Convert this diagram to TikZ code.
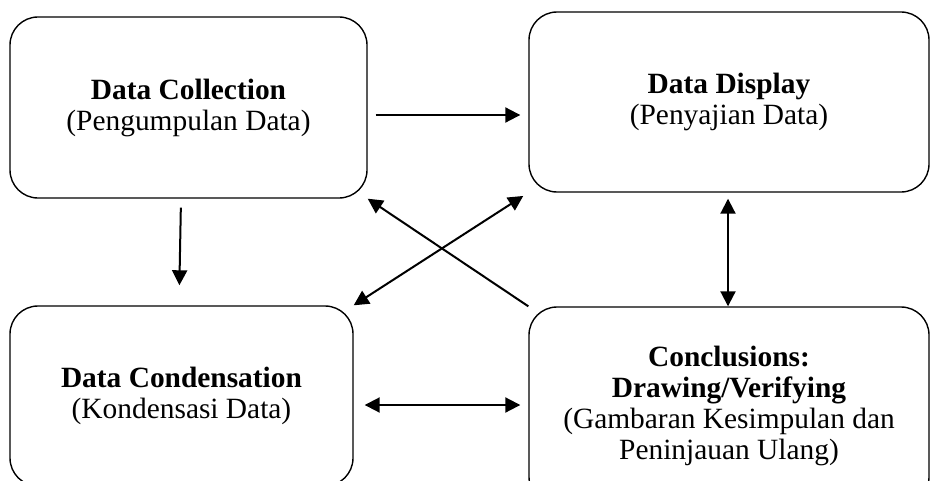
\documentclass[tikz,border=0pt]{standalone}
\usepackage{fontspec}
\setmainfont{Liberation Serif}
\usetikzlibrary{arrows.meta}
\tikzset{
  stagebox/.style={draw, line width=0.7pt, rounded corners=14pt,
    align=center, inner sep=0pt,
    font=\fontsize{14.7}{15.5}\selectfont},
  flow/.style={line width=1pt, -{Triangle[length=7.5pt,width=7.5pt]}},
  twoway/.style={line width=1pt,
    {Triangle[length=7.5pt,width=7.5pt]}-{Triangle[length=7.5pt,width=7.5pt]}},
}

\begin{document}
\begin{tikzpicture}[
  x=0.5pt,
  y=-0.5pt,
]
\useasboundingbox (0,0) rectangle (930,481);

\node [stagebox, minimum width=178.5pt, minimum height=90.5pt]
  (collect) at (188.5,107.5) {\textbf{Data Collection}\\(Pengumpulan Data)};
\node [stagebox, minimum width=200pt, minimum height=90pt]
  (display) at (729,102) {\textbf{Data Display}\\(Penyajian Data)};
\node [stagebox, minimum width=171.5pt, minimum height=90pt]
  (condense) at (181.5,396) {\textbf{Data Condensation}\\(Kondensasi Data)};
\node [stagebox, minimum width=200pt, minimum height=99pt]
  (conclude) at (729,406) {\textbf{Conclusions:}\\\textbf{Drawing/Verifying}\\
   (Gambaran Kesimpulan dan\\Peninjauan Ulang)};

\draw [flow, shorten <=4pt, shorten >=4pt]
  ([yshift=-3.75pt]collect.east) -- ([yshift=-3.75pt]collect.east -| display.west);
\draw [flow, shorten <=4.5pt, shorten >=10pt]
  ([xshift=-3.75pt]collect.south) -- ([xshift=-1.25pt]condense.north);
\draw [flow] (conclude.north west) -- (collect.south east);
\draw [twoway, shorten >=3pt] (condense.north east) -- (display.south west);
\draw [twoway, shorten <=3pt] ([xshift=-0.5pt]display.south) -- ([xshift=-0.5pt]conclude.north);
\draw [twoway, shorten <=5.5pt, shorten >=4pt]
  ([yshift=-4.5pt]condense.east) -- ([yshift=-4.5pt]condense.east -| conclude.west);

\end{tikzpicture}
\end{document}
